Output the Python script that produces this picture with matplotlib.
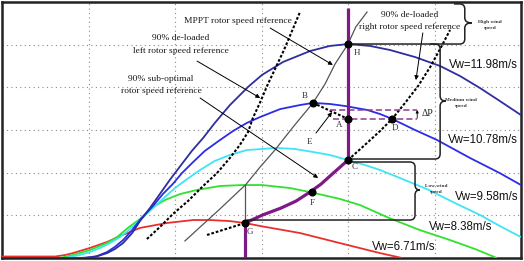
import matplotlib
matplotlib.use("Agg")
import matplotlib.pyplot as plt
from matplotlib.path import Path
from matplotlib.patches import PathPatch

# ---------------- data (rotor speed pu, power pu) ----------------
w_1198 = [0, 0.180, 0.215, 0.243, 0.261, 0.280, 0.301, 0.319, 0.342, 0.365, 0.388, 0.416, 0.439, 0.465,
          0.492, 0.527, 0.569, 0.601, 0.650, 0.712, 0.758, 0.800, 0.851, 0.897, 0.955, 1.013, 1.059, 1.105, 1.151, 1.200]
p_1198 = [0, 0, 0.005, 0.023, 0.042, 0.070, 0.117, 0.173, 0.234, 0.300, 0.366, 0.441, 0.502, 0.5625,
          0.633, 0.717, 0.802, 0.858, 0.919, 0.970, 0.994, 1.003, 0.994, 0.975, 0.942, 0.900, 0.853, 0.797, 0.736, 0.670]

w_1078 = [0, 0.192, 0.220, 0.243, 0.261, 0.280, 0.301, 0.319, 0.349, 0.372, 0.395, 0.416, 0.442, 0.469, 0.504,
          0.534, 0.566, 0.597, 0.643, 0.689, 0.719, 0.758, 0.793, 0.844, 0.874, 0.902, 0.955, 1.006, 1.082, 1.151, 1.200]
p_1078 = [0, 0, 0.009, 0.028, 0.052, 0.084, 0.131, 0.178, 0.244, 0.300, 0.347, 0.398, 0.450, 0.502, 0.553,
          0.595, 0.633, 0.661, 0.698, 0.717, 0.727, 0.722, 0.7125, 0.694, 0.675, 0.652, 0.600, 0.553, 0.469, 0.398, 0.342]

w_958 = [0, 0.146, 0.180, 0.203, 0.227, 0.250, 0.273, 0.296, 0.319, 0.347, 0.372, 0.400, 0.428, 0.458, 0.492, 0.527,
         0.566, 0.601, 0.636, 0.677, 0.719, 0.758, 0.800, 0.839, 0.874, 0.920, 0.987, 1.047, 1.105, 1.151, 1.200]
p_958 = [0, 0, 0.014, 0.028, 0.047, 0.070, 0.098, 0.136, 0.178, 0.230, 0.277, 0.328, 0.370, 0.4125, 0.455, 0.483,
         0.506, 0.511, 0.516, 0.511, 0.497, 0.483, 0.459, 0.436, 0.4125, 0.375, 0.319, 0.258, 0.202, 0.150, 0.098]

w_838 = [0, 0.134, 0.164, 0.203, 0.243, 0.266, 0.291, 0.319, 0.349, 0.377, 0.412, 0.451, 0.504, 0.557, 0.601,
         0.666, 0.712, 0.781, 0.828, 0.895, 0.966, 1.036, 1.094, 1.144]
p_838 = [0, 0, 0.014, 0.0375, 0.070, 0.098, 0.141, 0.183, 0.239, 0.272, 0.300, 0.319, 0.3375, 0.342, 0.342,
         0.328, 0.309, 0.277, 0.248, 0.1875, 0.131, 0.084, 0.042, 0]

w_671 = [0, 0.123, 0.146, 0.164, 0.203, 0.243, 0.273, 0.319, 0.381, 0.442, 0.481, 0.527, 0.562, 0.597, 0.689,
         0.781, 0.874, 0.925]
p_671 = [0.007, 0.007, 0.014, 0.023, 0.047, 0.075, 0.103, 0.141, 0.164, 0.178, 0.178, 0.173, 0.164, 0.150, 0.117,
         0.070, 0.023, 0]

curve_labels = ["Vw=11.98m/s", "Vw=10.78m/s", "Vw=9.58m/s", "Vw=8.38m/s", "Vw=6.71m/s"]

# MPPT rotor speed reference
w_mppt = [0.423, 0.458, 0.504, 0.564, 0.597, 0.631, 0.673, 0.719, 0.747, 0.770, 0.800, 0.818, 0.844]
p_mppt = [0.080, 0.145, 0.230, 0.345, 0.427, 0.506, 0.614, 0.727, 0.816, 0.909, 1.003, 1.083, 1.153]

# 90% de-loaded left rotor speed reference
w_left = [0.335, 0.365, 0.395, 0.430, 0.465, 0.497, 0.527, 0.550, 0.569, 0.580, 0.597, 0.615, 0.652, 0.689]
p_left = [0.089, 0.145, 0.206, 0.267, 0.3375, 0.398, 0.469, 0.530, 0.591, 0.656, 0.731, 0.816, 0.975, 1.153]

# 90% de-loaded right rotor speed reference
w_right = [0.800, 0.839, 0.874, 0.902, 0.932, 0.962, 0.990, 1.013, 1.036]
p_right = [0.459, 0.530, 0.595, 0.652, 0.727, 0.806, 0.895, 0.980, 1.069]

# sub-optimal short segment to G
w_sub = [0.474, 0.562]
p_sub = [0.108, 0.164]

# operating trajectory (purple)
w_op_curve = [0.800, 0.761, 0.738, 0.712, 0.680, 0.645, 0.603, 0.562]
p_op_curve = [0.459, 0.389, 0.347, 0.309, 0.267, 0.234, 0.202, 0.164]
w_op_top = [0.800, 0.800]
p_op_top = [1.172, 0.459]
w_op_bot = [0.562, 0.562]
p_op_bot = [0.164, 0.0]

# marked points
pt_names = ["H", "B", "A", "D", "C", "F", "G"]
pt_w = [0.800, 0.719, 0.800, 0.902, 0.800, 0.717, 0.562]
pt_p = [1.003, 0.727, 0.652, 0.652, 0.459, 0.309, 0.164]
lbl_w = [0.821, 0.701, 0.779, 0.909, 0.816, 0.717, 0.573, 0.712]
lbl_p = [0.961, 0.759, 0.623, 0.609, 0.427, 0.258, 0.122, 0.544]
lbl_names = ["H", "B", "A", "D", "C", "F", "G", "E"]

# ---------------- figure ----------------
fig = plt.figure(figsize=(5.24, 2.61), dpi=100)
ax = fig.add_axes([2 / 524, 3 / 261, 519 / 524, 256 / 261])
ax.set_xlim(0, 1.2)
ax.set_ylim(0, 1.2)
ax.set_xticks([0.2, 0.4, 0.6, 0.8, 1.0])
ax.set_yticks([0.2, 0.4, 0.6, 0.8, 1.0])
ax.tick_params(length=0, labelbottom=False, labelleft=False)
ax.grid(True, color="#8a8a8a", linestyle=(0, (1, 3)), lw=0.8)
for s in ax.spines.values():
    s.set_linewidth(1.8)
    s.set_color("#222222")

cols = ["#2e2e9e", "#2c2ce6", "#3ee6f4", "#2ee22e", "#e8302e"]
series = [(w_1198, p_1198), (w_1078, p_1078), (w_958, p_958), (w_838, p_838), (w_671, p_671)]
for (w, p), c in zip(reversed(series), reversed(cols)):
    ax.plot(w, p, color=c, lw=1.3, solid_capstyle="butt", zorder=3)

ax.plot(w_mppt, p_mppt, color="#555555", lw=0.9, zorder=4)
ax.plot([0.562, 0.562], [0.342, 0.164], color="#555555", lw=0.9, zorder=4)

dash = (0, (1.3, 0.9))
ax.plot(w_left, p_left, color="black", lw=1.5, linestyle=dash, zorder=4)
ax.plot(w_right, p_right, color="black", lw=1.5, linestyle=dash, zorder=4)
ax.plot(w_sub, p_sub, color="black", lw=1.5, linestyle=dash, zorder=4)
ax.plot([pt_w[1], pt_w[2]], [pt_p[1], pt_p[2]], color="black", lw=1.5, linestyle=dash, zorder=4)

purple = "#7e1a86"
ax.plot(w_op_top, p_op_top, color=purple, lw=2.3, zorder=5, solid_capstyle="butt")
ax.plot(w_op_curve, p_op_curve, color=purple, lw=2.3, zorder=5)
ax.plot(w_op_bot, p_op_bot, color=purple, lw=2.3, zorder=5, solid_capstyle="butt")

# delta P dashed lines
ax.plot([0.758, 0.960], [0.694, 0.694], color="#8e3a8e", lw=1.1, linestyle=(0, (4, 2)), zorder=4)
ax.plot([0.765, 0.960], [0.652, 0.652], color="#8e3a8e", lw=1.1, linestyle=(0, (4, 2)), zorder=4)
ax.annotate("", xy=(0.960, 0.694), xytext=(0.960, 0.655),
            arrowprops=dict(arrowstyle="-|>", color="black", lw=0.6, mutation_scale=4, shrinkA=0, shrinkB=0))
ax.text(0.970, 0.675, "ΔP", family="Liberation Serif", fontsize=7, va="center", ha="left", color="#222222")

ax.plot(pt_w, pt_p, "o", color="black", ms=4.8, zorder=7)

for n, x, y in zip(lbl_names, lbl_w, lbl_p):
    ax.text(x, y, n, family="Liberation Serif", fontsize=6.5, ha="center", va="center", color="#333333", zorder=8)

# text annotations
serif = dict(family="Liberation Serif", fontsize=6.8, ha="center", va="center", color="#1a1a1a")
ax.text(0.546, 1.111, "MPPT rotor speed reference", **serif)
ax.text(0.414, 1.031, "90% de-loaded", **serif)
ax.text(0.414, 0.970, "left rotor speed reference", **serif)
ax.text(0.368, 0.839, "90% sub-optimal", **serif)
ax.text(0.368, 0.783, "rotor speed reference", **serif)
ax.text(0.943, 1.139, "90% de-loaded", **serif)
ax.text(0.943, 1.083, "right rotor speed reference", **serif)

arr = dict(arrowstyle="-|>", color="black", lw=0.7, mutation_scale=6, shrinkA=0, shrinkB=0)
for tail, head in [((0.620, 1.078), (0.765, 0.905)),
                   ((0.451, 0.923), (0.597, 0.750)),
                   ((0.458, 0.750), (0.731, 0.375)),
                   ((0.973, 1.055), (0.957, 0.834)),
                   ((0.726, 0.586), (0.763, 0.684))]:
    ax.annotate("", xy=head, xytext=tail, arrowprops=arr, zorder=6)

# wind speed labels
sans = dict(family="Liberation Sans", fontsize=8.3, ha="center", va="center", color="#111111")
lab_pos = [(1.112, 0.905), (1.112, 0.553), (1.121, 0.286), (1.061, 0.145), (0.929, 0.052)]
for t, (x, y) in zip(curve_labels, lab_pos):
    ax.text(x, y, t, **sans, zorder=8)


# brackets
def brace(xl_top, y_top, xl_bot, y_bot, xb, tip, ymid, rx=0.012, ry=0.024):
    verts = [(xl_top, y_top), (xb - rx, y_top), (xb, y_top), (xb, y_top - ry),
             (xb, ymid + ry), (xb, ymid), (xb + tip, ymid), (xb, ymid), (xb, ymid - ry),
             (xb, y_bot + ry), (xb, y_bot), (xb - rx, y_bot), (xl_bot, y_bot)]
    codes = [Path.MOVETO, Path.LINETO, Path.CURVE3, Path.CURVE3,
             Path.LINETO, Path.CURVE3, Path.CURVE3, Path.CURVE3, Path.CURVE3,
             Path.LINETO, Path.CURVE3, Path.CURVE3, Path.LINETO]
    ax.add_patch(PathPatch(Path(verts, codes), fill=False, lw=1.1, ec="#222222", zorder=6))


brace(1.045, 1.191, 0.809, 1.003, 1.070, 0.016, 1.102)
brace(0.990, 1.003, 0.805, 0.464, 1.013, 0.013, 0.736)
brace(0.805, 0.450, 0.566, 0.178, 0.955, 0.011, 0.319)

small = dict(family="Liberation Serif", fontsize=3.8, ha="center", va="center", color="#333333",
             fontweight="bold", linespacing=1.4)
ax.text(1.128, 1.092, "High wind\nspeed", **small)
ax.text(1.062, 0.727, "Medium wind\nspeed", **small)
ax.text(1.003, 0.323, "Low wind\nspeed", **small)

fig.savefig("out.png", dpi=100)
